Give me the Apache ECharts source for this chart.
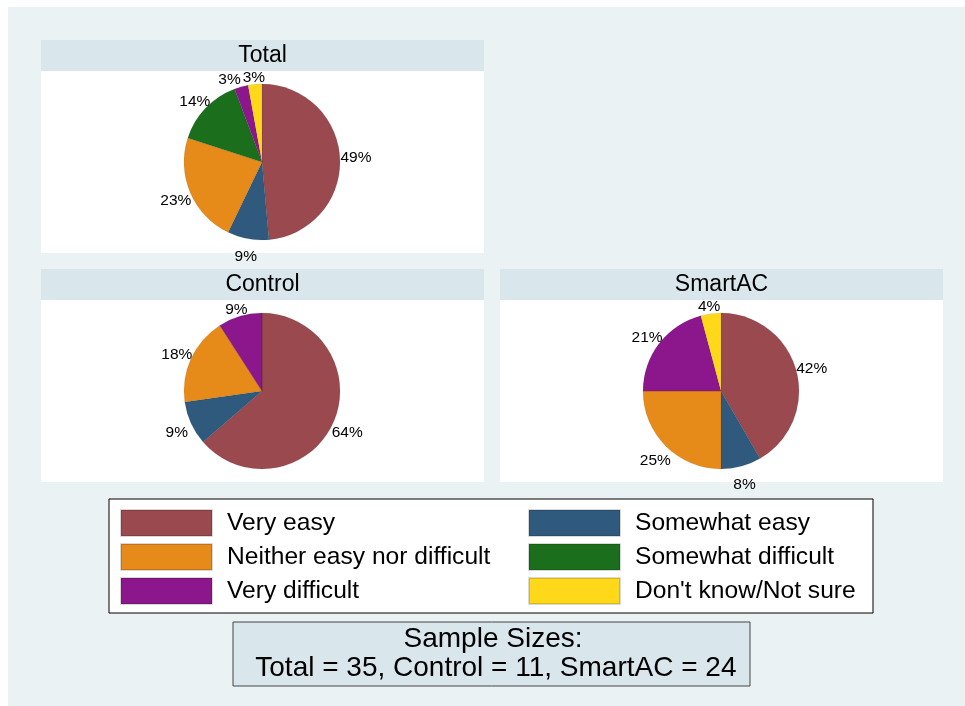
<!DOCTYPE html>
<html>
<head>
<meta charset="utf-8">
<script src="https://cdn.jsdelivr.net/npm/echarts@6/dist/echarts.min.js"></script>
<style>
  html, body { margin: 0; padding: 0; background: #fff; }
  #chart { width: 965px; height: 706px; }
</style>
</head>
<body>
<div id="chart"></div>
<script>
"use strict";

// ── Datos ────────────────────────────────────────────────────────────────
const categories = [
  "Very easy", "Somewhat easy", "Neither easy nor difficult",
  "Somewhat difficult", "Very difficult", "Don't know/Not sure"
];
const colors = ["#9a494e", "#2f5a7d", "#e68a1a", "#1b6e1b", "#8c178c", "#ffd919"];

const totalCounts   = [17, 3, 8, 5, 1, 1];   // n = 35
const controlCounts = [7, 1, 2, 0, 1, 0];    // n = 11
const smartacCounts = [10, 2, 6, 0, 5, 1];   // n = 24

const panelTitles = ["Total", "Control", "SmartAC"];
const sampleText = ["Sample Sizes:", " Total = 35, Control = 11, SmartAC = 24"];

// ── Helpers ──────────────────────────────────────────────────────────────
const FONT = "'Liberation Sans', Arial, sans-serif";
const LABEL_SIZE = 15.5;
const HEADER_BG = "#d9e6ec";
const PAGE_BG = "#eaf2f3";
const R = 78;        // radio del pastel
const RL = 90;       // radio de las etiquetas (arriba/abajo)

const measureCtx = document.createElement("canvas").getContext("2d");
measureCtx.font = LABEL_SIZE + "px " + FONT;

function pctText(v, sum) {
  return v ? Math.round(v / sum * 100) + "%" : "";
}

// posiciones de etiquetas (estilo Stata: fuera del pastel, centradas)
function labelPositions(counts, cx, cy) {
  const sum = counts.reduce((a, b) => a + b, 0);
  let acc = 0;
  const pos = counts.map(v => {
    const mid = (acc + v / 2) / sum * Math.PI * 2;
    acc += v;
    const s = Math.sin(mid), c = Math.cos(mid);
    const r = RL + 4 * Math.abs(s);
    const text = pctText(v, sum);
    return { x: cx + r * s, y: cy - r * c + 6 * Math.abs(c), w: measureCtx.measureText(text).width, text };
  });
  // separar etiquetas vecinas que se pisan
  const shown = pos.filter(p => p.text);
  for (let i = 1; i < shown.length; i++) {
    const a = shown[i - 1], b = shown[i];
    if (Math.abs(a.y - b.y) > 13) continue;
    const [l, r] = a.x < b.x ? [a, b] : [b, a];
    const overlap = (l.x + l.w / 2) - (r.x - r.w / 2) + 2;
    if (overlap > 0) l.x -= overlap;
  }
  return pos;
}

function pieSeries(name, counts, cx, cy) {
  const sum = counts.reduce((a, b) => a + b, 0);
  const pos = labelPositions(counts, cx, cy);
  return {
    name,
    type: "pie",
    center: [cx, cy],
    radius: [0, R],
    startAngle: 90,
    clockwise: true,
    animation: false,
    silent: true,
    avoidLabelOverlap: false,
    data: categories.map((c, i) => ({
      name: c, value: counts[i], itemStyle: { color: colors[i] }
    })),
    itemStyle: { borderWidth: 0.5, borderColor: "rgba(0,0,0,.15)" },
    label: {
      show: true, position: "outside",
      fontFamily: FONT, fontSize: LABEL_SIZE, color: "#000",
      formatter: p => pctText(p.value, sum)
    },
    labelLine: { show: false },
    labelLayout: p => ({
      x: pos[p.dataIndex].x, y: pos[p.dataIndex].y,
      align: "center", verticalAlign: "middle", hideOverlap: false
    }),
    emphasis: { disabled: true }
  };
}

function panel(x, y, w, title) {
  return [
    { type: "rect", shape: { x, y, width: w, height: 31 }, style: { fill: HEADER_BG }, silent: true },
    { type: "rect", shape: { x, y: y + 31, width: w, height: 182 }, style: { fill: "#fff" }, silent: true },
    { type: "text", x: x + w / 2, y: y + 16,
      style: { text: title, font: "23px " + FONT, fill: "#000", align: "center", verticalAlign: "middle" } }
  ];
}

function legendCol(left, idx) {
  return {
    orient: "vertical", left, top: 509, padding: 0,
    data: idx.map(i => ({ name: categories[i], itemStyle: { color: colors[i] } })),
    icon: "rect", itemWidth: 91, itemHeight: 26, itemGap: 6,
    selectedMode: false,
    textStyle: { fontFamily: FONT, fontSize: 24.6, lineHeight: 26, color: "#000", padding: [0, 0, 0, 10] }
  };
}

const chart = echarts.init(document.getElementById("chart"), null, { renderer: "canvas" });

chart.setOption({
  animation: false,
  backgroundColor: "#fff",
  graphic: [
    { type: "rect", z: -10, shape: { x: 8, y: 7, width: 957, height: 699 }, style: { fill: PAGE_BG }, silent: true },
    ...panel(41, 40, 443, panelTitles[0]),
    ...panel(41, 269, 443, panelTitles[1]),
    ...panel(500, 269, 443, panelTitles[2]),
    { type: "rect", shape: { x: 109, y: 499, width: 764, height: 114 },
      style: { fill: "#fff", stroke: "#000", lineWidth: 1 }, silent: true },
    { type: "rect", shape: { x: 233, y: 622, width: 517, height: 64 },
      style: { fill: HEADER_BG, stroke: "#444", lineWidth: 1 }, silent: true },
    { type: "text", x: 493, y: 639,
      style: { text: sampleText[0], font: "28px " + FONT, fill: "#000", align: "center", verticalAlign: "middle" } },
    { type: "text", x: 492, y: 668,
      style: { text: sampleText[1], font: "28px " + FONT, fill: "#000", align: "center", verticalAlign: "middle" } }
  ],
  legend: [
    legendCol(120, [0, 2, 4]),
    legendCol(528, [1, 3, 5])
  ],
  series: [
    pieSeries(panelTitles[0], totalCounts, 262, 162),
    pieSeries(panelTitles[1], controlCounts, 262, 391),
    pieSeries(panelTitles[2], smartacCounts, 721, 391)
  ]
});

window.addEventListener("resize", () => chart.resize());
</script>
</body>
</html>
